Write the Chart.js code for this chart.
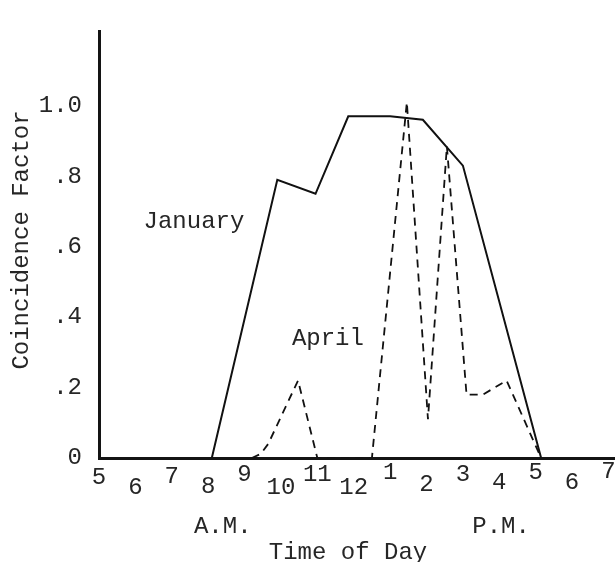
<!DOCTYPE html>
<html>
<head>
<meta charset="utf-8">
<script src="https://cdn.jsdelivr.net/npm/chart.js@4.4.1/dist/chart.umd.min.js"></script>
<style>
  html, body { margin: 0; padding: 0; background: #ffffff; }
  #wrap { width: 615px; height: 562px; position: relative; }
</style>
</head>
<body>
<div id="wrap"><canvas id="chart" width="615" height="562"></canvas></div>
<script>
// Coincidence factor through the day (hour of day, 24h clock)
const janHours  = [8.1, 9.9, 10.95, 11.85, 13.0, 13.9, 15.0, 17.15];
const janFactor = [0, 0.79, 0.75, 0.97, 0.97, 0.96, 0.83, 0];

const aprHours  = [9.2, 9.45, 9.65, 10.47, 11.0, 12.5, 13.46, 14.04, 14.56, 15.1, 15.55, 16.2, 17.15];
const aprFactor = [0, 0.012, 0.04, 0.22, 0, 0, 1.01, 0.11, 0.885, 0.18, 0.18, 0.22, 0];

// Axis ticks
const hourTicks  = [5, 6, 7, 8, 9, 10, 11, 12, 13, 14, 15, 16, 17, 18, 19];
const hourLabels = ['5', '6', '7', '8', '9', '10', '11', '12', '1', '2', '3', '4', '5', '6', '7'];
const factorTicks  = [0, 0.2, 0.4, 0.6, 0.8, 1.0];
const factorLabels = ['0', '.2', '.4', '.6', '.8', '1.0'];

const seriesNames = ['January', 'April'];

const FONT = "'Liberation Mono', 'Courier New', monospace";
const INK = '#262626';

const toPoints = (xs, ys) => xs.map((x, i) => ({ x: x, y: ys[i] }));

// Hand-typed annotations: staggered hour numbers, A.M./P.M., titles, series names
const typedLabels = {
  id: 'typedLabels',
  afterDraw(chart) {
    const { ctx, scales: { x, y } } = chart;
    ctx.save();
    ctx.fillStyle = INK;
    ctx.font = '24px ' + FONT;
    ctx.textAlign = 'center';
    ctx.textBaseline = 'middle';

    // hour numbers alternate up/down below the axis
    const stagger = [20, 30, 19, 29, 17, 30, 17, 30, 15, 27, 17, 25, 15, 25, 14];
    hourTicks.forEach((h, i) => {
      ctx.fillText(hourLabels[i], x.getPixelForValue(h), y.bottom + stagger[i]);
    });

    ctx.fillText('A.M.', x.getPixelForValue(8.4), y.bottom + 69);
    ctx.fillText('P.M.', x.getPixelForValue(16.05), y.bottom + 69);
    ctx.fillText('Time of Day', 348, y.bottom + 95);

    // series names next to their curves
    ctx.fillText(seriesNames[0], x.getPixelForValue(7.61), y.getPixelForValue(0.67));
    ctx.fillText(seriesNames[1], x.getPixelForValue(11.29), y.getPixelForValue(0.338));

    // vertical axis title
    ctx.translate(22, 240);
    ctx.rotate(-Math.PI / 2);
    ctx.fillText('Coincidence Factor', 0, 0);
    ctx.restore();
  }
};

new Chart(document.getElementById('chart'), {
  type: 'line',
  data: {
    datasets: [
      {
        label: seriesNames[0],
        data: toPoints(janHours, janFactor),
        borderColor: '#111111',
        borderWidth: 2,
        pointRadius: 0,
        tension: 0,
        fill: false
      },
      {
        label: seriesNames[1],
        data: toPoints(aprHours, aprFactor),
        borderColor: '#111111',
        borderWidth: 1.8,
        borderDash: [8, 6],
        pointRadius: 0,
        tension: 0,
        fill: false
      }
    ]
  },
  options: {
    responsive: false,
    animation: false,
    events: [],
    layout: { padding: { left: 0, right: 0, top: 10, bottom: 0 } },
    plugins: {
      legend: { display: false },
      tooltip: { enabled: false },
      title: { display: false }
    },
    scales: {
      x: {
        type: 'linear',
        min: 5,
        max: 19.18,
        grid: { display: false, drawTicks: false },
        border: { display: true, color: '#141414', width: 3 },
        ticks: { display: false },
        afterFit(scale) { scale.height = 104; }
      },
      y: {
        type: 'linear',
        min: 0,
        max: 1.211,
        grid: { display: false, drawTicks: false },
        border: { display: true, color: '#141414', width: 3 },
        afterBuildTicks(scale) {
          scale.ticks = factorTicks.map(v => ({ value: v }));
        },
        ticks: {
          padding: 17,
          color: INK,
          font: { family: FONT, size: 24 },
          callback(value) {
            const i = factorTicks.findIndex(t => Math.abs(t - value) < 1e-6);
            return i >= 0 ? factorLabels[i] : '';
          }
        },
        afterFit(scale) { scale.width = 99; }
      }
    }
  },
  plugins: [typedLabels]
});
</script>
</body>
</html>
